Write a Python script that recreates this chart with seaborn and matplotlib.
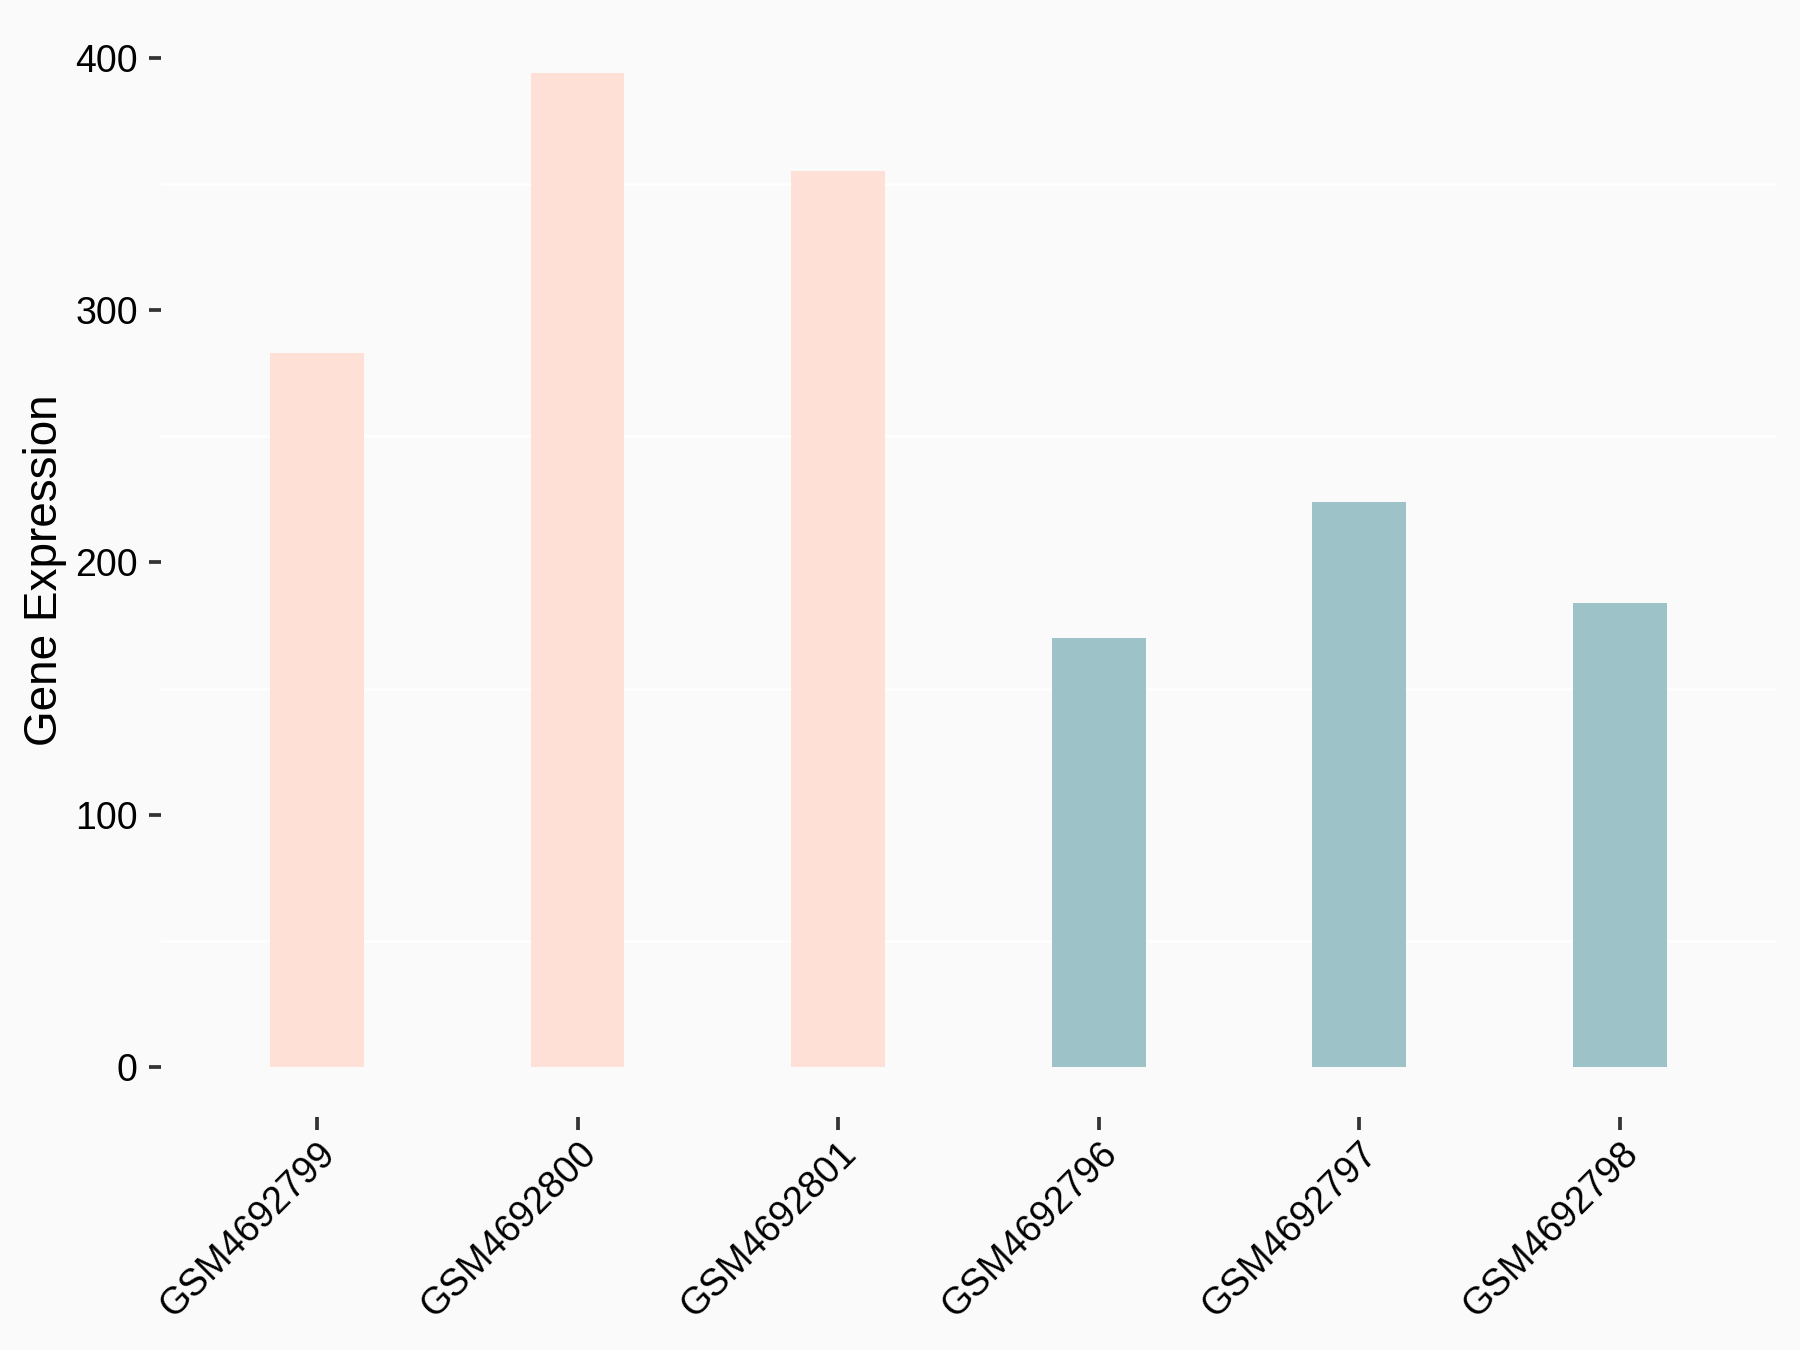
import pandas as pd
import seaborn as sns
import matplotlib.pyplot as plt
from matplotlib.ticker import MultipleLocator

# sample ids, expression values and group
samples = ['GSM4692799', 'GSM4692800', 'GSM4692801', 'GSM4692796', 'GSM4692797', 'GSM4692798']
expression = [283, 394, 355, 170, 224, 184]
groups = ['A', 'A', 'A', 'B', 'B', 'B']
group_colors = {'A': '#FFE0D6', 'B': '#9DC3C8'}

df = pd.DataFrame({'sample': samples, 'expression': expression, 'group': groups})

sns.set_style('white')
plt.rcParams['font.family'] = ['Liberation Sans', 'DejaVu Sans']

fig = plt.figure(figsize=(12, 9), dpi=150, facecolor='#FAFAFA')
ax = fig.add_axes([0.0893, 0.1726, 0.8974, 0.8104])
ax.set_facecolor('#FAFAFA')

sns.barplot(data=df, x='sample', y='expression', hue='group', palette=group_colors,
            order=samples, width=0.36, dodge=False, legend=False, saturation=1,
            linewidth=0, ax=ax)

ax.set_xlim(-0.6, 5.6)
ax.set_ylim(-19.7, 413.7)
ax.yaxis.set_major_locator(MultipleLocator(100))
ax.yaxis.set_minor_locator(MultipleLocator(100, offset=50))
ax.grid(which='minor', axis='y', color='white', linewidth=1.2)
ax.set_axisbelow(True)
for s in ax.spines.values():
    s.set_visible(False)

ax.tick_params(axis='both', which='major', bottom=True, left=True, direction='out',
               length=6, width=1.8, color='#333333',
               labelsize=18, labelcolor='black', pad=5)
ax.tick_params(axis='x', which='major', pad=3)
ax.tick_params(axis='y', which='minor', length=0)
plt.setp(ax.get_xticklabels(), rotation=45, ha='right', rotation_mode='anchor')

ax.set_xlabel('')
ax.set_ylabel('Gene Expression', fontsize=22, color='black', labelpad=4)

fig.savefig('out.png', dpi=150, facecolor='#FAFAFA')
